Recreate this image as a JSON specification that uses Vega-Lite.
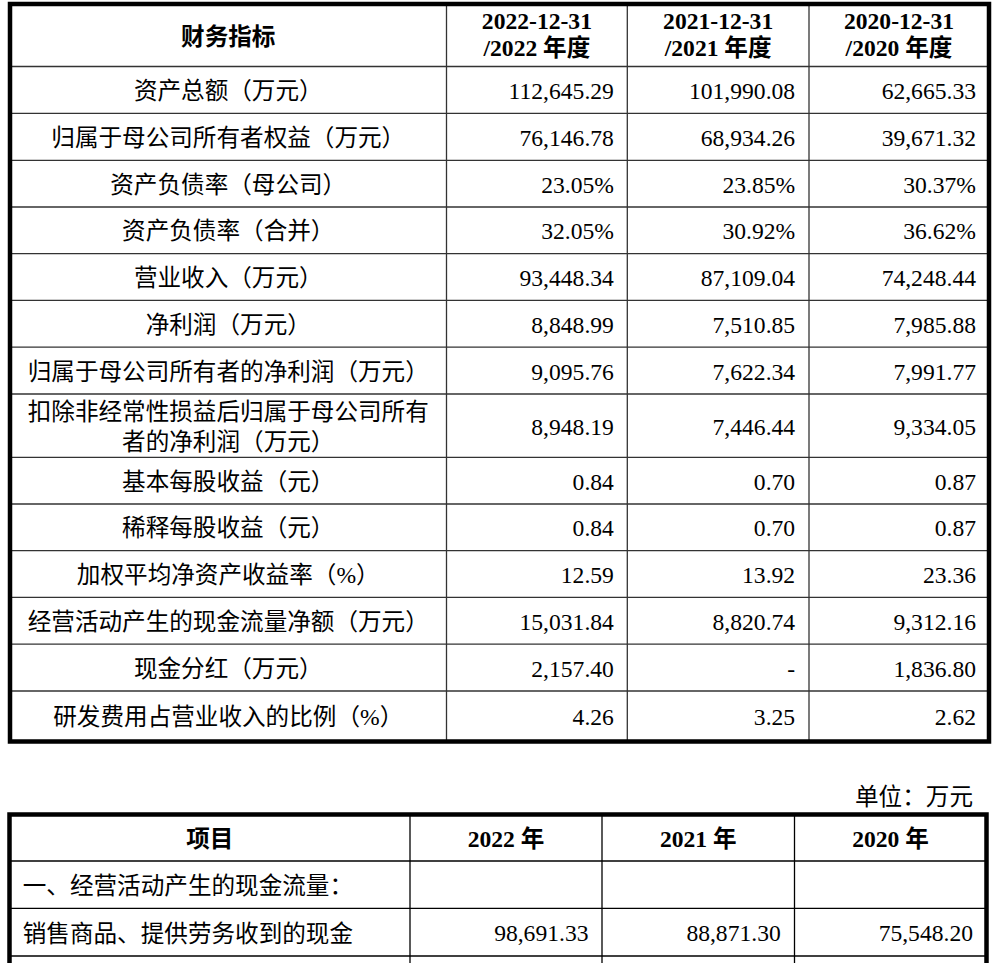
{
  "$schema": "https://vega.github.io/schema/vega-lite/v6.json",
  "width": 997,
  "height": 963,
  "autosize": "none",
  "padding": 0,
  "background": "#ffffff",
  "config": {
    "view": {"stroke": null},
    "text": {"font": "Liberation Serif, Noto Sans CJK SC", "fontSize": 23.6, "color": "#000000"}
  },
  "datasets": {
    "t1cells": [
      {"row": 0, "col": 0, "kind": "head", "text": "财务指标"},
      {"row": 0, "col": 1, "kind": "head", "text": "2022-12-31\n/2022 年度"},
      {"row": 0, "col": 2, "kind": "head", "text": "2021-12-31\n/2021 年度"},
      {"row": 0, "col": 3, "kind": "head", "text": "2020-12-31\n/2020 年度"},
      {"row": 1, "col": 0, "kind": "lab", "text": "资产总额（万元）"},
      {"row": 1, "col": 1, "kind": "num", "text": "112,645.29"},
      {"row": 1, "col": 2, "kind": "num", "text": "101,990.08"},
      {"row": 1, "col": 3, "kind": "num", "text": "62,665.33"},
      {"row": 2, "col": 0, "kind": "lab", "text": "归属于母公司所有者权益（万元）"},
      {"row": 2, "col": 1, "kind": "num", "text": "76,146.78"},
      {"row": 2, "col": 2, "kind": "num", "text": "68,934.26"},
      {"row": 2, "col": 3, "kind": "num", "text": "39,671.32"},
      {"row": 3, "col": 0, "kind": "lab", "text": "资产负债率（母公司）"},
      {"row": 3, "col": 1, "kind": "num", "text": "23.05%"},
      {"row": 3, "col": 2, "kind": "num", "text": "23.85%"},
      {"row": 3, "col": 3, "kind": "num", "text": "30.37%"},
      {"row": 4, "col": 0, "kind": "lab", "text": "资产负债率（合并）"},
      {"row": 4, "col": 1, "kind": "num", "text": "32.05%"},
      {"row": 4, "col": 2, "kind": "num", "text": "30.92%"},
      {"row": 4, "col": 3, "kind": "num", "text": "36.62%"},
      {"row": 5, "col": 0, "kind": "lab", "text": "营业收入（万元）"},
      {"row": 5, "col": 1, "kind": "num", "text": "93,448.34"},
      {"row": 5, "col": 2, "kind": "num", "text": "87,109.04"},
      {"row": 5, "col": 3, "kind": "num", "text": "74,248.44"},
      {"row": 6, "col": 0, "kind": "lab", "text": "净利润（万元）"},
      {"row": 6, "col": 1, "kind": "num", "text": "8,848.99"},
      {"row": 6, "col": 2, "kind": "num", "text": "7,510.85"},
      {"row": 6, "col": 3, "kind": "num", "text": "7,985.88"},
      {"row": 7, "col": 0, "kind": "lab", "text": "归属于母公司所有者的净利润（万元）"},
      {"row": 7, "col": 1, "kind": "num", "text": "9,095.76"},
      {"row": 7, "col": 2, "kind": "num", "text": "7,622.34"},
      {"row": 7, "col": 3, "kind": "num", "text": "7,991.77"},
      {"row": 8, "col": 0, "kind": "lab", "text": "扣除非经常性损益后归属于母公司所有\n者的净利润（万元）"},
      {"row": 8, "col": 1, "kind": "num", "text": "8,948.19"},
      {"row": 8, "col": 2, "kind": "num", "text": "7,446.44"},
      {"row": 8, "col": 3, "kind": "num", "text": "9,334.05"},
      {"row": 9, "col": 0, "kind": "lab", "text": "基本每股收益（元）"},
      {"row": 9, "col": 1, "kind": "num", "text": "0.84"},
      {"row": 9, "col": 2, "kind": "num", "text": "0.70"},
      {"row": 9, "col": 3, "kind": "num", "text": "0.87"},
      {"row": 10, "col": 0, "kind": "lab", "text": "稀释每股收益（元）"},
      {"row": 10, "col": 1, "kind": "num", "text": "0.84"},
      {"row": 10, "col": 2, "kind": "num", "text": "0.70"},
      {"row": 10, "col": 3, "kind": "num", "text": "0.87"},
      {"row": 11, "col": 0, "kind": "lab", "text": "加权平均净资产收益率（%）"},
      {"row": 11, "col": 1, "kind": "num", "text": "12.59"},
      {"row": 11, "col": 2, "kind": "num", "text": "13.92"},
      {"row": 11, "col": 3, "kind": "num", "text": "23.36"},
      {"row": 12, "col": 0, "kind": "lab", "text": "经营活动产生的现金流量净额（万元）"},
      {"row": 12, "col": 1, "kind": "num", "text": "15,031.84"},
      {"row": 12, "col": 2, "kind": "num", "text": "8,820.74"},
      {"row": 12, "col": 3, "kind": "num", "text": "9,312.16"},
      {"row": 13, "col": 0, "kind": "lab", "text": "现金分红（万元）"},
      {"row": 13, "col": 1, "kind": "num", "text": "2,157.40"},
      {"row": 13, "col": 2, "kind": "num", "text": "-"},
      {"row": 13, "col": 3, "kind": "num", "text": "1,836.80"},
      {"row": 14, "col": 0, "kind": "lab", "text": "研发费用占营业收入的比例（%）"},
      {"row": 14, "col": 1, "kind": "num", "text": "4.26"},
      {"row": 14, "col": 2, "kind": "num", "text": "3.25"},
      {"row": 14, "col": 3, "kind": "num", "text": "2.62"}
    ],
    "t1lines": [
      {"x": -0.5, "x2": 3.5, "y": 0.5, "y2": 0.5},
      {"x": -0.5, "x2": 3.5, "y": 1.5, "y2": 1.5},
      {"x": -0.5, "x2": 3.5, "y": 2.5, "y2": 2.5},
      {"x": -0.5, "x2": 3.5, "y": 3.5, "y2": 3.5},
      {"x": -0.5, "x2": 3.5, "y": 4.5, "y2": 4.5},
      {"x": -0.5, "x2": 3.5, "y": 5.5, "y2": 5.5},
      {"x": -0.5, "x2": 3.5, "y": 6.5, "y2": 6.5},
      {"x": -0.5, "x2": 3.5, "y": 7.5, "y2": 7.5},
      {"x": -0.5, "x2": 3.5, "y": 8.5, "y2": 8.5},
      {"x": -0.5, "x2": 3.5, "y": 9.5, "y2": 9.5},
      {"x": -0.5, "x2": 3.5, "y": 10.5, "y2": 10.5},
      {"x": -0.5, "x2": 3.5, "y": 11.5, "y2": 11.5},
      {"x": -0.5, "x2": 3.5, "y": 12.5, "y2": 12.5},
      {"x": -0.5, "x2": 3.5, "y": 13.5, "y2": 13.5},
      {"x": 0.5, "x2": 0.5, "y": -0.5, "y2": 14.5},
      {"x": 1.5, "x2": 1.5, "y": -0.5, "y2": 14.5},
      {"x": 2.5, "x2": 2.5, "y": -0.5, "y2": 14.5}
    ],
    "t1box": [{"x": -0.5, "x2": 3.5, "y": -0.5, "y2": 14.5}],
    "t2cells": [
      {"row": 0, "col": 3, "kind": "num", "text": "单位：万元"},
      {"row": 1, "col": 0, "kind": "head", "text": "项目"},
      {"row": 1, "col": 1, "kind": "head", "text": "2022 年"},
      {"row": 1, "col": 2, "kind": "head", "text": "2021 年"},
      {"row": 1, "col": 3, "kind": "head", "text": "2020 年"},
      {"row": 2, "col": 0, "kind": "lab", "text": "一、经营活动产生的现金流量："},
      {"row": 3, "col": 0, "kind": "lab", "text": "销售商品、提供劳务收到的现金"},
      {"row": 3, "col": 1, "kind": "num", "text": "98,691.33"},
      {"row": 3, "col": 2, "kind": "num", "text": "88,871.30"},
      {"row": 3, "col": 3, "kind": "num", "text": "75,548.20"}
    ],
    "t2lines": [
      {"x": -0.5, "x2": 3.5, "y": 1.5, "y2": 1.5},
      {"x": -0.5, "x2": 3.5, "y": 2.5, "y2": 2.5},
      {"x": -0.5, "x2": 3.5, "y": 3.5, "y2": 3.5},
      {"x": 0.5, "x2": 0.5, "y": 0.5, "y2": 4.5},
      {"x": 1.5, "x2": 1.5, "y": 0.5, "y2": 4.5},
      {"x": 2.5, "x2": 2.5, "y": 0.5, "y2": 4.5}
    ],
    "t2box": [{"x": -0.5, "x2": 3.5, "y": 0.5, "y2": 4.5}]
  },
  "layer": [
    {
      "layer": [
        {
          "data": {"name": "t1lines"},
          "mark": {"type": "rule", "stroke": "#333333", "strokeWidth": 1.3},
          "encoding": {
            "x": {"field": "x", "type": "quantitative", "axis": null, "scale": {"domain": [-0.5, 0.5, 1.5, 2.5, 3.5], "range": [10, 446.5, 627.3, 809, 989], "nice": false, "zero": false}},
            "x2": {"field": "x2"},
            "y": {"field": "y", "type": "quantitative", "axis": null, "scale": {"domain": [-0.5, 0.5, 1.5, 2.5, 3.5, 4.5, 5.5, 6.5, 7.5, 8.5, 9.5, 10.5, 11.5, 12.5, 13.5, 14.5], "range": [4, 66.5, 113.3, 160.3, 207, 253.7, 300.4, 347.1, 394, 457.4, 504, 550.7, 597.4, 644.1, 691, 741.5], "nice": false, "zero": false}},
            "y2": {"field": "y2"}
          }
        },
        {
          "data": {"name": "t1box"},
          "mark": {"type": "rect", "filled": false, "stroke": "#000000", "strokeWidth": 4.5},
          "encoding": {
            "x": {"field": "x", "type": "quantitative", "axis": null, "scale": {"domain": [-0.5, 0.5, 1.5, 2.5, 3.5], "range": [10, 446.5, 627.3, 809, 989], "nice": false, "zero": false}},
            "x2": {"field": "x2"},
            "y": {"field": "y", "type": "quantitative", "axis": null, "scale": {"domain": [-0.5, 0.5, 1.5, 2.5, 3.5, 4.5, 5.5, 6.5, 7.5, 8.5, 9.5, 10.5, 11.5, 12.5, 13.5, 14.5], "range": [4, 66.5, 113.3, 160.3, 207, 253.7, 300.4, 347.1, 394, 457.4, 504, 550.7, 597.4, 644.1, 691, 741.5], "nice": false, "zero": false}},
            "y2": {"field": "y2"}
          }
        },
        {
          "data": {"name": "t1cells"},
          "transform": [{"filter": "datum.kind === 'head' && datum.col === 0"}],
          "mark": {"type": "text", "fontWeight": "bold", "align": "center", "baseline": "middle", "dy": 2.5},
          "encoding": {
            "x": {"field": "col", "type": "quantitative", "axis": null, "scale": {"domain": [-0.5, 0.5, 1.5, 2.5, 3.5], "range": [10, 446.5, 627.3, 809, 989], "nice": false, "zero": false}},
            "y": {"field": "row", "type": "quantitative", "axis": null, "scale": {"domain": [-0.5, 0.5, 1.5, 2.5, 3.5, 4.5, 5.5, 6.5, 7.5, 8.5, 9.5, 10.5, 11.5, 12.5, 13.5, 14.5], "range": [4, 66.5, 113.3, 160.3, 207, 253.7, 300.4, 347.1, 394, 457.4, 504, 550.7, 597.4, 644.1, 691, 741.5], "nice": false, "zero": false}},
            "text": {"field": "text", "type": "nominal"}
          }
        },
        {
          "data": {"name": "t1cells"},
          "transform": [{"filter": "datum.kind === 'head' && datum.col > 0"}],
          "mark": {"type": "text", "fontWeight": "bold", "align": "center", "baseline": "middle", "lineBreak": "\n", "lineHeight": 27, "dy": -13},
          "encoding": {
            "x": {"field": "col", "type": "quantitative", "axis": null, "scale": {"domain": [-0.5, 0.5, 1.5, 2.5, 3.5], "range": [10, 446.5, 627.3, 809, 989], "nice": false, "zero": false}},
            "y": {"field": "row", "type": "quantitative", "axis": null, "scale": {"domain": [-0.5, 0.5, 1.5, 2.5, 3.5, 4.5, 5.5, 6.5, 7.5, 8.5, 9.5, 10.5, 11.5, 12.5, 13.5, 14.5], "range": [4, 66.5, 113.3, 160.3, 207, 253.7, 300.4, 347.1, 394, 457.4, 504, 550.7, 597.4, 644.1, 691, 741.5], "nice": false, "zero": false}},
            "text": {"field": "text", "type": "nominal"}
          }
        },
        {
          "data": {"name": "t1cells"},
          "transform": [{"filter": "datum.kind === 'lab' && datum.row !== 8"}],
          "mark": {"type": "text", "align": "center", "baseline": "middle", "dy": 2},
          "encoding": {
            "x": {"field": "col", "type": "quantitative", "axis": null, "scale": {"domain": [-0.5, 0.5, 1.5, 2.5, 3.5], "range": [10, 446.5, 627.3, 809, 989], "nice": false, "zero": false}},
            "y": {"field": "row", "type": "quantitative", "axis": null, "scale": {"domain": [-0.5, 0.5, 1.5, 2.5, 3.5, 4.5, 5.5, 6.5, 7.5, 8.5, 9.5, 10.5, 11.5, 12.5, 13.5, 14.5], "range": [4, 66.5, 113.3, 160.3, 207, 253.7, 300.4, 347.1, 394, 457.4, 504, 550.7, 597.4, 644.1, 691, 741.5], "nice": false, "zero": false}},
            "text": {"field": "text", "type": "nominal"}
          }
        },
        {
          "data": {"name": "t1cells"},
          "transform": [{"filter": "datum.kind === 'lab' && datum.row === 8"}],
          "mark": {"type": "text", "align": "center", "baseline": "middle", "lineBreak": "\n", "lineHeight": 30, "dy": -13},
          "encoding": {
            "x": {"field": "col", "type": "quantitative", "axis": null, "scale": {"domain": [-0.5, 0.5, 1.5, 2.5, 3.5], "range": [10, 446.5, 627.3, 809, 989], "nice": false, "zero": false}},
            "y": {"field": "row", "type": "quantitative", "axis": null, "scale": {"domain": [-0.5, 0.5, 1.5, 2.5, 3.5, 4.5, 5.5, 6.5, 7.5, 8.5, 9.5, 10.5, 11.5, 12.5, 13.5, 14.5], "range": [4, 66.5, 113.3, 160.3, 207, 253.7, 300.4, 347.1, 394, 457.4, 504, 550.7, 597.4, 644.1, 691, 741.5], "nice": false, "zero": false}},
            "text": {"field": "text", "type": "nominal"}
          }
        },
        {
          "data": {"name": "t1cells"},
          "transform": [{"filter": "datum.kind === 'num'"}],
          "mark": {"type": "text", "align": "right", "baseline": "middle", "dx": 77, "dy": 2},
          "encoding": {
            "x": {"field": "col", "type": "quantitative", "axis": null, "scale": {"domain": [-0.5, 0.5, 1.5, 2.5, 3.5], "range": [10, 446.5, 627.3, 809, 989], "nice": false, "zero": false}},
            "y": {"field": "row", "type": "quantitative", "axis": null, "scale": {"domain": [-0.5, 0.5, 1.5, 2.5, 3.5, 4.5, 5.5, 6.5, 7.5, 8.5, 9.5, 10.5, 11.5, 12.5, 13.5, 14.5], "range": [4, 66.5, 113.3, 160.3, 207, 253.7, 300.4, 347.1, 394, 457.4, 504, 550.7, 597.4, 644.1, 691, 741.5], "nice": false, "zero": false}},
            "text": {"field": "text", "type": "nominal"}
          }
        }
      ]
    },
    {
      "layer": [
        {
          "data": {"name": "t2lines"},
          "mark": {"type": "rule", "stroke": "#000000", "strokeWidth": 1.3, "clip": true},
          "encoding": {
            "x": {"field": "x", "type": "quantitative", "axis": null, "scale": {"domain": [-0.5, 0.5, 1.5, 2.5, 3.5], "range": [9.5, 410, 602, 794.5, 986.5], "nice": false, "zero": false}},
            "x2": {"field": "x2"},
            "y": {"field": "y", "type": "quantitative", "axis": null, "scale": {"domain": [-0.5, 0.5, 1.5, 2.5, 3.5, 4.5], "range": [778, 814.5, 861, 908.3, 956, 1003.5], "nice": false, "zero": false}},
            "y2": {"field": "y2"}
          }
        },
        {
          "data": {"name": "t2box"},
          "mark": {"type": "rect", "filled": false, "stroke": "#000000", "strokeWidth": 4.5, "clip": true},
          "encoding": {
            "x": {"field": "x", "type": "quantitative", "axis": null, "scale": {"domain": [-0.5, 0.5, 1.5, 2.5, 3.5], "range": [9.5, 410, 602, 794.5, 986.5], "nice": false, "zero": false}},
            "x2": {"field": "x2"},
            "y": {"field": "y", "type": "quantitative", "axis": null, "scale": {"domain": [-0.5, 0.5, 1.5, 2.5, 3.5, 4.5], "range": [778, 814.5, 861, 908.3, 956, 1003.5], "nice": false, "zero": false}},
            "y2": {"field": "y2"}
          }
        },
        {
          "data": {"name": "t2cells"},
          "transform": [{"filter": "datum.kind === 'head'"}],
          "mark": {"type": "text", "fontWeight": "bold", "align": "center", "baseline": "middle", "dy": 2},
          "encoding": {
            "x": {"field": "col", "type": "quantitative", "axis": null, "scale": {"domain": [-0.5, 0.5, 1.5, 2.5, 3.5], "range": [9.5, 410, 602, 794.5, 986.5], "nice": false, "zero": false}},
            "y": {"field": "row", "type": "quantitative", "axis": null, "scale": {"domain": [-0.5, 0.5, 1.5, 2.5, 3.5, 4.5], "range": [778, 814.5, 861, 908.3, 956, 1003.5], "nice": false, "zero": false}},
            "text": {"field": "text", "type": "nominal"}
          }
        },
        {
          "data": {"name": "t2cells"},
          "transform": [{"filter": "datum.kind === 'lab'"}],
          "mark": {"type": "text", "align": "left", "baseline": "middle", "dx": -187, "dy": 2.5},
          "encoding": {
            "x": {"field": "col", "type": "quantitative", "axis": null, "scale": {"domain": [-0.5, 0.5, 1.5, 2.5, 3.5], "range": [9.5, 410, 602, 794.5, 986.5], "nice": false, "zero": false}},
            "y": {"field": "row", "type": "quantitative", "axis": null, "scale": {"domain": [-0.5, 0.5, 1.5, 2.5, 3.5, 4.5], "range": [778, 814.5, 861, 908.3, 956, 1003.5], "nice": false, "zero": false}},
            "text": {"field": "text", "type": "nominal"}
          }
        },
        {
          "data": {"name": "t2cells"},
          "transform": [{"filter": "datum.kind === 'num'"}],
          "mark": {"type": "text", "align": "right", "baseline": "middle", "dx": 82.5, "dy": 2},
          "encoding": {
            "x": {"field": "col", "type": "quantitative", "axis": null, "scale": {"domain": [-0.5, 0.5, 1.5, 2.5, 3.5], "range": [9.5, 410, 602, 794.5, 986.5], "nice": false, "zero": false}},
            "y": {"field": "row", "type": "quantitative", "axis": null, "scale": {"domain": [-0.5, 0.5, 1.5, 2.5, 3.5, 4.5], "range": [778, 814.5, 861, 908.3, 956, 1003.5], "nice": false, "zero": false}},
            "text": {"field": "text", "type": "nominal"}
          }
        }
      ]
    }
  ],
  "resolve": {"scale": {"x": "independent", "y": "independent"}}
}
